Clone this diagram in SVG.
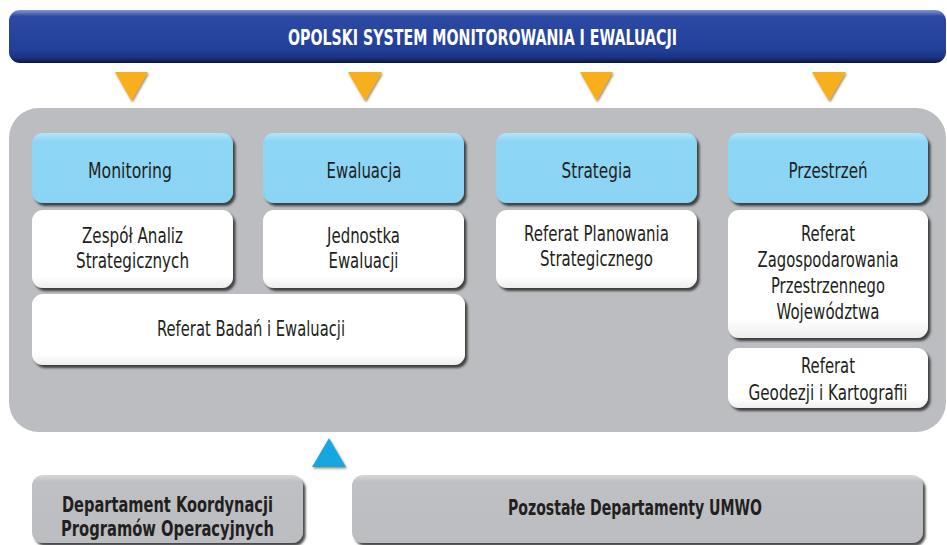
<svg xmlns="http://www.w3.org/2000/svg" width="947" height="545" viewBox="0 0 947 545">
<defs>
<linearGradient id="gTitle" x1="0" y1="0" x2="0" y2="1">
<stop offset="0" stop-color="#8796cf"/>
<stop offset="0.12" stop-color="#2c4aa3"/>
<stop offset="0.75" stop-color="#22409a"/>
<stop offset="0.9" stop-color="#1a3280"/>
<stop offset="1" stop-color="#0b1642"/>
</linearGradient>
<linearGradient id="gBlue" x1="0" y1="0" x2="0" y2="1">
<stop offset="0" stop-color="#b4e6fa"/>
<stop offset="0.12" stop-color="#8ed6f5"/>
<stop offset="1" stop-color="#8bd4f4"/>
</linearGradient>
<linearGradient id="gWhite" x1="0" y1="0" x2="0" y2="1">
<stop offset="0" stop-color="#ffffff"/>
<stop offset="0.85" stop-color="#ffffff"/>
<stop offset="1" stop-color="#eeeeee"/>
</linearGradient>
<linearGradient id="gGray" x1="0" y1="0" x2="0" y2="1">
<stop offset="0" stop-color="#d6d7d9"/>
<stop offset="0.1" stop-color="#bfc0c3"/>
<stop offset="1" stop-color="#bcbdc0"/>
</linearGradient>
<filter id="sh" x="-10%" y="-10%" width="125%" height="130%">
<feDropShadow dx="2.5" dy="3" stdDeviation="1.3" flood-color="#2a2a2a" flood-opacity="0.85"/>
</filter>
<filter id="shT" x="-20%" y="-20%" width="150%" height="150%">
<feDropShadow dx="1" dy="1.5" stdDeviation="0.8" flood-color="#5a3a00" flood-opacity="0.6"/>
</filter>
<style>
.t{font-family:"DejaVu Sans Condensed","Liberation Sans",sans-serif;font-size:21px;fill:#231f20;text-anchor:middle}
.b{font-weight:bold}
.w{fill:#ffffff}
.hdr{fill:url(#gBlue);filter:url(#sh)}
.box{fill:url(#gWhite);filter:url(#sh)}
.gbox{fill:url(#gGray);filter:url(#sh)}
.tri{fill:#f9ae1e;filter:url(#shT)}
</style>
</defs>

<g id="title">
<rect x="9" y="10" width="937" height="53" rx="11" fill="url(#gTitle)"/>
<text class="t b w" x="482.5" y="45" font-size="20.5" textLength="389" lengthAdjust="spacingAndGlyphs">OPOLSKI SYSTEM MONITOROWANIA I EWALUACJI</text>
</g>

<g id="connectors">
<polygon class="tri" points="115,72 148,72 131.5,101"/>
<polygon class="tri" points="348,72 382,72 365,101"/>
<polygon class="tri" points="580,72 613,72 596.5,101"/>
<polygon class="tri" points="812,72 846,72 829,101"/>
<polygon points="329,438 346,467 312,467" fill="#15a7e0" filter="url(#shT)"/>
</g>

<g id="container">
<rect x="9" y="108" width="937" height="324" rx="30" fill="#bcbdc0"/>
</g>

<g id="monitoring">
<rect class="hdr" x="32" y="133" width="201" height="70" rx="11"/>
<text class="t" x="130" y="178" textLength="84" lengthAdjust="spacingAndGlyphs">Monitoring</text>
</g>
<g id="ewaluacja">
<rect class="hdr" x="263" y="133" width="201" height="70" rx="11"/>
<text class="t" x="364" y="178" textLength="75" lengthAdjust="spacingAndGlyphs">Ewaluacja</text>
</g>
<g id="strategia">
<rect class="hdr" x="496" y="133" width="201" height="70" rx="11"/>
<text class="t" x="596.5" y="178" textLength="70" lengthAdjust="spacingAndGlyphs">Strategia</text>
</g>
<g id="przestrzen">
<rect class="hdr" x="728" y="133" width="200" height="70" rx="11"/>
<text class="t" x="828" y="178" textLength="79" lengthAdjust="spacingAndGlyphs">Przestrzeń</text>
</g>

<g id="zespol">
<rect class="box" x="32" y="210" width="201" height="78" rx="11"/>
<text class="t" x="132.5" y="243" textLength="101" lengthAdjust="spacingAndGlyphs">Zespół Analiz</text>
<text class="t" x="132.5" y="268" textLength="113" lengthAdjust="spacingAndGlyphs">Strategicznych</text>
</g>
<g id="jednostka">
<rect class="box" x="263" y="210" width="201" height="78" rx="11"/>
<text class="t" x="363.5" y="243" textLength="73" lengthAdjust="spacingAndGlyphs">Jednostka</text>
<text class="t" x="363.5" y="268" textLength="70" lengthAdjust="spacingAndGlyphs">Ewaluacji</text>
</g>
<g id="planowania">
<rect class="box" x="496" y="210" width="201" height="78" rx="11"/>
<text class="t" x="596.5" y="241" textLength="145" lengthAdjust="spacingAndGlyphs">Referat Planowania</text>
<text class="t" x="596.5" y="266" textLength="113" lengthAdjust="spacingAndGlyphs">Strategicznego</text>
</g>
<g id="zagospodarowania">
<rect class="box" x="728" y="210" width="200" height="128" rx="11"/>
<text class="t" x="828" y="241" textLength="54" lengthAdjust="spacingAndGlyphs">Referat</text>
<text class="t" x="828" y="267" textLength="141" lengthAdjust="spacingAndGlyphs">Zagospodarowania</text>
<text class="t" x="828" y="293" textLength="114" lengthAdjust="spacingAndGlyphs">Przestrzennego</text>
<text class="t" x="828" y="319" textLength="103" lengthAdjust="spacingAndGlyphs">Województwa</text>
</g>
<g id="badan">
<rect class="box" x="32" y="294" width="433" height="71" rx="11"/>
<text class="t" x="251" y="336" textLength="188" lengthAdjust="spacingAndGlyphs">Referat Badań i Ewaluacji</text>
</g>
<g id="geodezji">
<rect class="box" x="728" y="348" width="200" height="60" rx="11"/>
<text class="t" x="828" y="373" textLength="54" lengthAdjust="spacingAndGlyphs">Referat</text>
<text class="t" x="828" y="400" textLength="159" lengthAdjust="spacingAndGlyphs">Geodezji i Kartografii</text>
</g>

<g id="departament">
<rect class="gbox" x="32" y="475" width="271" height="68" rx="11"/>
<text class="t b" x="167.5" y="512" textLength="211" lengthAdjust="spacingAndGlyphs">Departament Koordynacji</text>
<text class="t b" x="167.5" y="536" textLength="213" lengthAdjust="spacingAndGlyphs">Programów Operacyjnych</text>
</g>
<g id="pozostale">
<rect class="gbox" x="352" y="475" width="571" height="68" rx="11"/>
<text class="t b" x="635" y="515" textLength="254" lengthAdjust="spacingAndGlyphs">Pozostałe Departamenty UMWO</text>
</g>
</svg>
